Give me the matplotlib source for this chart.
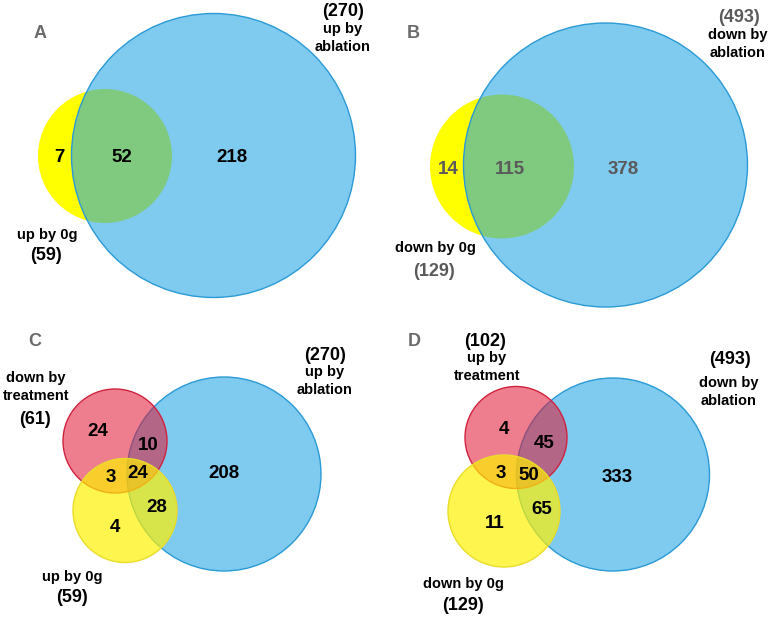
import matplotlib.pyplot as plt
from matplotlib.patches import Circle

plt.rcParams['font.family'] = ['Liberation Sans', 'DejaVu Sans']
plt.rcParams['font.weight'] = 'bold'

# data: region counts and set labels per panel
letters = ['A', 'B', 'C', 'D']
counts_a = [7, 52, 218]
counts_b = [14, 115, 378]
counts_c = [24, 10, 3, 24, 208, 28, 4]
counts_d = [4, 45, 3, 50, 333, 65, 11]
sets_a = ['up by 0g', '(59)', '(270)', 'up by\nablation']
sets_b = ['down by 0g', '(129)', '(493)', 'down by\nablation']
sets_c = ['down by\ntreatment', '(61)', 'up by 0g', '(59)', '(270)', 'up by\nablation']
sets_d = ['(102)', 'up by\ntreatment', '(493)', 'down by\nablation', 'down by 0g', '(129)']

# colours
BLUE, BLUE_EDGE = (27/255, 162/255, 228/255), '#2a9ad6'
RED, RED_EDGE = (225/255, 20/255, 50/255), '#d0223e'
YEL, YEL_EDGE = (255/255, 241/255, 0), '#e9dc2a'
GREY = '#6b6b6b'
NUMGREY = '#5a5a5a'

NUM = 13.5   # region counts
LAB = 10.5   # set names
TOT = 13     # set totals

fig = plt.figure(figsize=(7.72, 6.2), dpi=100)
ax = fig.add_axes([0, 0, 1, 1])
ax.set_xlim(0, 772)
ax.set_ylim(620, 0)
ax.set_aspect('equal')
ax.axis('off')


def circle(x, y, r, fc, ec, alpha, lw=1.0, z=1):
    ax.add_patch(Circle((x, y), r, facecolor=fc, edgecolor='none', alpha=alpha, zorder=z))
    if ec != 'none':
        ax.add_patch(Circle((x, y), r, facecolor='none', edgecolor=ec, lw=lw, zorder=z + 0.5))


def txt(x, y, s, size=NUM, color='black'):
    ax.text(x, y, s, ha='center', va='center', fontsize=size, color=color,
            fontweight='bold', linespacing=1.35, zorder=10)


# ---- A ----
circle(105, 156, 67, 'yellow', 'none', 1.0, z=1)
circle(213.5, 155.5, 142, BLUE, BLUE_EDGE, 0.56, z=2)
for (x, y), v in zip([(59, 157), (122, 157), (232, 157)], counts_a):
    txt(x, y, str(v))
txt(40, 33, letters[0], 13, GREY)
txt(47, 235, sets_a[0], LAB)
txt(46, 256, sets_a[1], TOT)
txt(343, 11, sets_a[2], TOT)
txt(343, 38, sets_a[3], LAB)

# ---- B ----
circle(502, 166.5, 72, 'yellow', 'none', 1.0, z=1)
circle(605.5, 165, 142, BLUE, BLUE_EDGE, 0.56, z=2)
for (x, y), v in zip([(448, 169), (510, 169), (623, 169)], counts_b):
    txt(x, y, str(v), color=NUMGREY)
txt(413, 33, letters[1], 13, GREY)
txt(435, 248, sets_b[0], LAB)
txt(434, 272, sets_b[1], TOT, NUMGREY)
txt(739, 17, sets_b[2], TOT, NUMGREY)
txt(738, 44, sets_b[3], LAB)

# ---- C ----
circle(224, 474, 97, BLUE, BLUE_EDGE, 0.56, z=1)
circle(115, 441, 52, RED, RED_EDGE, 0.55, z=3)
circle(125, 510.5, 52, YEL, YEL_EDGE, 0.69, z=5)
pos_c = [(98, 432), (148, 445), (111, 478), (138, 474), (224, 473), (157, 508), (115, 528)]
for (x, y), v in zip(pos_c, counts_c):
    txt(x, y, str(v))
txt(35, 342, letters[2], 13, GREY)
txt(36, 387, sets_c[0], LAB)
txt(35, 419, sets_c[1], TOT)
txt(72, 577, sets_c[2], LAB)
txt(72, 598, sets_c[3], TOT)
txt(325, 355, sets_c[4], TOT)
txt(325, 381, sets_c[5], LAB)

# ---- D ----
circle(613, 474.5, 96.5, BLUE, BLUE_EDGE, 0.56, z=1)
circle(516, 437.5, 51, RED, RED_EDGE, 0.55, z=3)
circle(504, 511, 56, YEL, YEL_EDGE, 0.69, z=5)
pos_d = [(504, 429), (544, 443), (501, 473), (529, 475), (617, 478), (542, 509), (495, 524)]
for (x, y), v in zip(pos_d, counts_d):
    txt(x, y, str(v))
txt(414, 342, letters[3], 13, GREY)
txt(485, 341, sets_d[0], TOT)
txt(487, 367, sets_d[1], LAB)
txt(730, 360, sets_d[2], TOT)
txt(729, 392, sets_d[3], LAB)
txt(463, 584, sets_d[4], LAB)
txt(463, 606, sets_d[5], TOT)

fig.savefig('out.png', dpi=100, facecolor='white')
